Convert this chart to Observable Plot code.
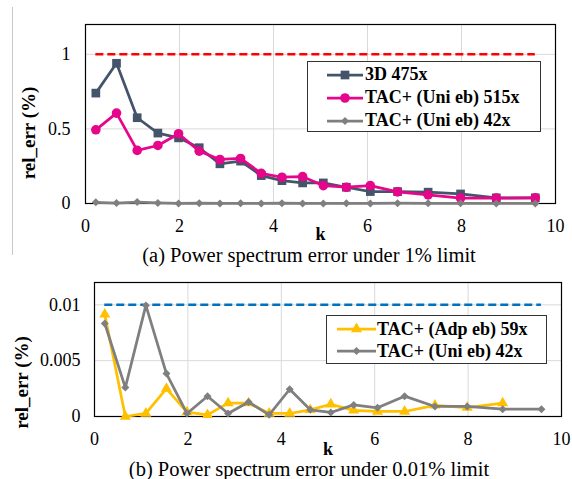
<!DOCTYPE html>
<html><head><meta charset="utf-8">
<script src="https://cdn.jsdelivr.net/npm/d3@7"></script>
<script src="https://cdn.jsdelivr.net/npm/@observablehq/plot@0.6"></script>
<style>
body{margin:0;background:#fff;}
#root{position:relative;width:572px;height:479px;font-family:"Liberation Serif","DejaVu Serif","Times New Roman",Times,serif;background:#fff;overflow:hidden;color:#000}
.panel{position:absolute;left:0}
.caption{position:absolute;left:0;width:618px;text-align:center;font-size:20.5px;line-height:17px;white-space:nowrap}
.legend{position:absolute;border:1px solid #333;background:#fff;font-weight:bold;font-size:18px;box-sizing:border-box}
.legend .row{display:flex;align-items:center;white-space:nowrap}
.legend svg{display:block;flex:none}
.vline{position:absolute;left:12px;top:7px;width:1px;height:248px;background:#c8c8c8}
</style>
</head><body>
<div id="root">
  <div class="vline"></div>
  <div id="panelA" class="panel" style="top:0px"></div>
  <div id="legendA" class="legend" style="left:307px;top:61px;width:234px;height:71px;padding-top:1px"></div>
  <div class="caption" style="top:247px">(a) Power spectrum error under 1% limit</div>
  <div id="panelB" class="panel" style="top:260px"></div>
  <div id="legendB" class="legend" style="left:326px;top:315px;width:221px;height:49px;padding-top:2px"></div>
  <div class="caption" style="top:461px">(b) Power spectrum error under 0.01% limit</div>
</div>
<script>
// ---- data ----
const k = [0.22, 0.66, 1.10, 1.54, 1.98, 2.42, 2.86, 3.30, 3.74, 4.18, 4.62, 5.06, 5.55, 6.06, 6.64, 7.29, 7.98, 8.74, 9.57];
// panel (a)
const err3D_475x = [0.74, 0.94, 0.575, 0.472, 0.44, 0.374, 0.266, 0.284, 0.187, 0.153, 0.138, 0.138, 0.109, 0.08, 0.08, 0.076, 0.064, 0.038, 0.038];
const errUni_515x = [0.494, 0.606, 0.356, 0.389, 0.468, 0.351, 0.295, 0.302, 0.202, 0.176, 0.18, 0.12, 0.109, 0.12, 0.078, 0.058, 0.036, 0.036, 0.038];
// panel (b) (also shown in (a))
const errUni_42x = [0.00833, 0.00259, 0.00995, 0.00384, 0.00027, 0.00182, 0.00027, 0.0013, 0.00015, 0.00244, 0.0006, 0.00036, 0.00104, 0.00078, 0.00182, 0.0009, 0.0009, 0.00065, 0.00065];
const errAdp_59x = [0.00914, 0.0, 0.00027, 0.0025, 0.0004, 0.00015, 0.0012, 0.0012, 0.00027, 0.00027, 0.0006, 0.0011, 0.00055, 0.00045, 0.00045, 0.001, 0.0008, 0.0012];
const limitA = 1;
const limitB = 0.01;
const xTicks = [0, 2, 4, 6, 8, 10];
const yTicksA = [0, 0.5, 1];
const yTicksB = [0, 0.005, 0.01];
const seriesA = ["3D 475x", "TAC+ (Uni eb) 515x", "TAC+ (Uni eb) 42x"];
const seriesB = ["TAC+ (Adp eb) 59x", "TAC+ (Uni eb) 42x"];
const yLabel = "rel_err (%)";
const xLabel = "k";

const C3D = "#44546a", CPINK = "#e5068b", CGRAY = "#7f7f7f", CYEL = "#ffc000", CRED = "#ff0000", CBLUE = "#0070c0";
const toRows = (vals) => vals.map((v, i) => ({k: k[i], v}));
const font = '"Liberation Serif","DejaVu Serif","Times New Roman",Times,serif';

function seriesMarks(rows, color, symbol, r) {
  return [
    Plot.line(rows, {x: "k", y: "v", stroke: color, strokeWidth: 2.75}),
    Plot.dot(rows, {x: "k", y: "v", symbol, r, fill: color, stroke: "none"})
  ];
}

const plotA = Plot.plot({
  width: 572, height: 250,
  marginTop: 24, marginBottom: 47, marginLeft: 85, marginRight: 17,
  x: {domain: [0, 10]},
  y: {domain: [0, 1.2]},
  style: {fontFamily: font, fontSize: "18px", background: "transparent", color: "#000"},
  marks: [
    Plot.gridX(xTicks, {stroke: "#d9d9d9", strokeOpacity: 1}),
    Plot.gridY(yTicksA, {stroke: "#d9d9d9", strokeOpacity: 1}),
    Plot.frame({stroke: "#000", strokeWidth: 1.2}),
    Plot.axisX(xTicks, {tickSize: 0, tickPadding: 16, label: null, fontSize: 18}),
    Plot.axisY(yTicksA, {tickSize: 0, tickPadding: 15, label: null, fontSize: 18, tickFormat: d => String(d)}),
    Plot.ruleY([limitA], {x1: k[0], x2: k[k.length - 1], stroke: CRED, strokeWidth: 2.5, strokeDasharray: "8,4"}),
    ...seriesMarks(toRows(err3D_475x), C3D, "square", 4.9),
    ...seriesMarks(toRows(errUni_515x), CPINK, "circle", 4.8),
    ...seriesMarks(toRows(errUni_42x), CGRAY, "diamond2", 3.6),
    Plot.text([yLabel], {text: d => d, frameAnchor: "left", dx: -57, dy: 19, rotate: -90, fontWeight: "bold", fontSize: 19, textAnchor: "middle", lineAnchor: "middle"}),
    Plot.text([xLabel], {text: d => d, frameAnchor: "bottom", dy: 31, fontWeight: "bold", fontSize: 18, lineAnchor: "middle"})
  ]
});
document.getElementById("panelA").append(plotA);

const plotB = Plot.plot({
  width: 572, height: 215,
  marginTop: 22, marginBottom: 59, marginLeft: 94, marginRight: 11,
  x: {domain: [0, 10]},
  y: {domain: [0, 0.012]},
  style: {fontFamily: font, fontSize: "18px", background: "transparent", color: "#000"},
  marks: [
    Plot.gridX(xTicks, {stroke: "#d9d9d9", strokeOpacity: 1}),
    Plot.gridY(yTicksB, {stroke: "#d9d9d9", strokeOpacity: 1}),
    Plot.frame({stroke: "#000", strokeWidth: 1.2}),
    Plot.axisX(xTicks, {tickSize: 0, tickPadding: 16, label: null, fontSize: 18}),
    Plot.axisY(yTicksB, {tickSize: 0, tickPadding: 14, label: null, fontSize: 18, tickFormat: d => String(d)}),
    Plot.ruleY([limitB], {x1: k[0], x2: k[k.length - 1], stroke: CBLUE, strokeWidth: 2.5, strokeDasharray: "8,4"}),
    ...seriesMarks(toRows(errAdp_59x), CYEL, "triangle", 4.1),
    ...seriesMarks(toRows(errUni_42x), CGRAY, "diamond2", 3.6),
    Plot.text([yLabel], {text: d => d, frameAnchor: "left", dx: -73, dy: 33, rotate: -90, fontWeight: "bold", fontSize: 19, textAnchor: "middle", lineAnchor: "middle"}),
    Plot.text([xLabel], {text: d => d, frameAnchor: "bottom", dy: 33, fontWeight: "bold", fontSize: 18, lineAnchor: "middle"})
  ]
});
document.getElementById("panelB").append(plotB);

// ---- legends ----
function swatch(color, symbol, r, w) {
  const h = 22;
  const sym = d3.symbol().type(symbol).size(Math.PI * r * r)();
  return `<svg width="${w}" height="${h}"><line x1="0" x2="${w}" y1="${h/2}" y2="${h/2}" stroke="${color}" stroke-width="2.75"/>` +
    `<path d="${sym}" transform="translate(${w/2},${h/2})" fill="${color}"/></svg>`;
}
const legA = [[seriesA[0], C3D, d3.symbolSquare, 4.9], [seriesA[1], CPINK, d3.symbolCircle, 4.8], [seriesA[2], CGRAY, d3.symbolDiamond2, 3.6]];
document.getElementById("legendA").innerHTML = legA.map(([t, c, s, r]) =>
  `<div class="row" style="height:23px;padding-left:19px">${swatch(c, s, r, 36)}<span style="margin-left:2px">${t}</span></div>`).join("");
const legB = [[seriesB[0], CYEL, d3.symbolTriangle, 4.1], [seriesB[1], CGRAY, d3.symbolDiamond2, 3.6]];
document.getElementById("legendB").innerHTML = legB.map(([t, c, s, r]) =>
  `<div class="row" style="height:22px;padding-left:10px">${swatch(c, s, r, 39)}<span style="margin-left:1px">${t}</span></div>`).join("");
</script>
</body></html>
